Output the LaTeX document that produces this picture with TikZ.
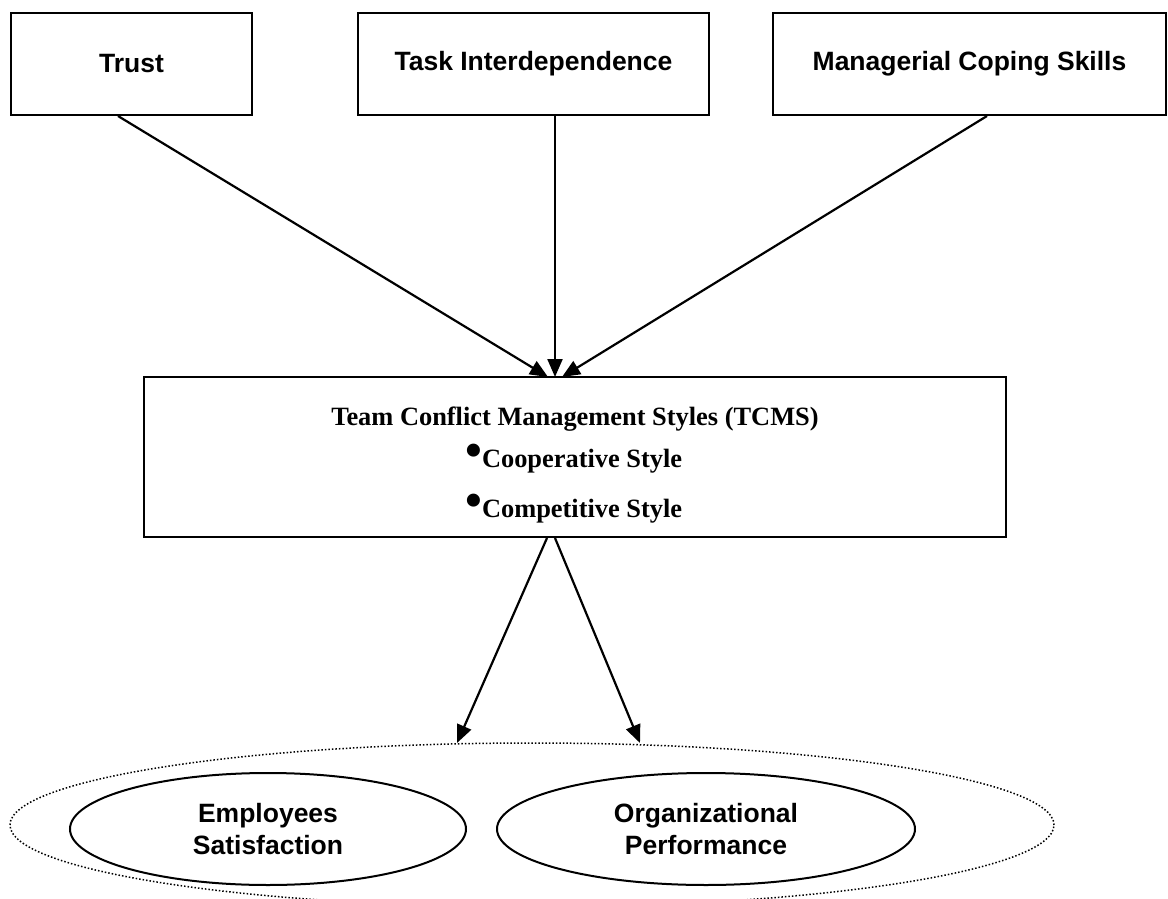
\documentclass[tikz,border=0pt]{standalone}
\usepackage{fontspec}
\setmainfont{Liberation Serif}
\newfontfamily\arialfont{Liberation Sans}
\usetikzlibrary{arrows.meta,shapes.geometric}

\newcommand{\stylebullet}{\raisebox{1pt}{\fontsize{48}{48}\selectfont\textbullet}}

\tikzset{
  factor/.style={draw,line width=2pt,rectangle,inner sep=0pt,font=\arialfont\bfseries\fontsize{26.5}{32}\selectfont},
  outcome/.style={draw,line width=2pt,ellipse,inner sep=0pt,align=center,font=\arialfont\bfseries\fontsize{26.5}{32}\selectfont},
  styleline/.style={inner sep=0pt,font=\bfseries\fontsize{26.4}{30}\selectfont},
  arr/.style={line width=2.2pt,-{Triangle[length=18pt,width=15pt]}}
}

\begin{document}
\begin{tikzpicture}[x=1pt,y=-1pt]
  \useasboundingbox (0,0) rectangle (1168,899);

  % Antecedents
  \node[factor,minimum width=241pt,minimum height=102pt] (trust) at (131.5,64) {Trust};
  \node[factor,minimum width=351pt,minimum height=102pt] (task) at (533.5,64) {Task Interdependence};
  \node[factor,minimum width=393pt,minimum height=102pt] (coping) at (969.5,64) {Managerial Coping Skills};

  % Conflict management styles
  \node[draw,line width=2pt,rectangle,minimum width=862pt,minimum height=160pt] (tcms) at (575,457) {};
  \node[styleline,anchor=base] (title) at (575,425) {Team Conflict Management Styles (TCMS)};
  \node[styleline,anchor=base west] (coop) at (465,467) {\stylebullet Cooperative Style};
  \node[styleline,anchor=base west] (comp) at (465,517) {\stylebullet Competitive Style};

  % Outcomes
  \node[draw,ellipse,line width=1.5pt,dash pattern=on 1.5pt off 2pt,minimum width=1044pt,minimum height=164pt] (results) at (532,825) {};
  \node[outcome,minimum width=396pt,minimum height=112pt] (emp) at (268,829) {Employees\\Satisfaction};
  \node[outcome,minimum width=418pt,minimum height=112pt] (perf) at (706,829) {Organizational\\Performance};

  \coordinate (hub) at (555,377);
  \coordinate (out1) at (457,743);
  \coordinate (out2) at (640,743);

  % Arrows
  \draw[arr] (trust.south -| 118,0) -- (hub -| 548,0);
  \draw[arr] (task.south -| 555,0) -- (hub);
  \draw[arr] (coping.south -| 987,0) -- (hub -| 562,0);
  \draw[arr] (tcms.south -| 547,0) -- (out1);
  \draw[arr] (tcms.south -| 555,0) -- (out2);

\end{tikzpicture}
\end{document}
